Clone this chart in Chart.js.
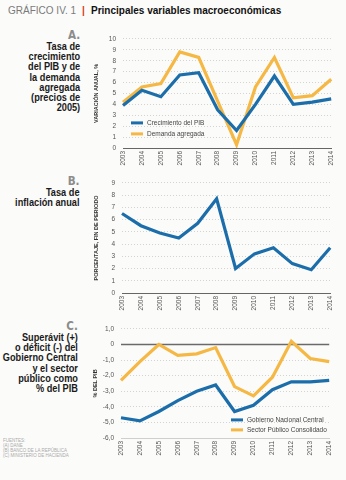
<!DOCTYPE html>
<html>
<head>
<meta charset="utf-8">
<script src="https://cdn.jsdelivr.net/npm/chart.js@4.4.1/dist/chart.umd.min.js"></script>
<style>
  body { margin:0; width:346px; height:480px; overflow:hidden; position:relative; background:#fbfbf9;
         font-family:"Liberation Sans",Arial,sans-serif; }
  canvas { position:absolute; }
  .head { position:absolute; left:8px; top:4px; font-size:11.5px; white-space:nowrap; transform:scaleX(0.87); transform-origin:left top; }
  .head .g { color:#7a7a7a; }
  .head .r { color:#d23a2a; font-weight:bold; margin:0 7px; }
  .head .t { color:#111; font-weight:bold; }
  .lbl { position:absolute; right:266px; text-align:right; font-weight:bold; font-size:11.5px; line-height:10.2px; color:#1a1a1a;
         white-space:nowrap; transform:scaleX(0.8); transform-origin:right top; }
  .lbl .k { display:block; color:#8c8c8c; font-size:13px; line-height:12px; font-family:"DejaVu Sans",sans-serif; }
  .src { position:absolute; left:3px; top:438px; font-size:4.5px; line-height:5px; color:#aaa; }
</style>
</head>
<body>
<div class="head"><span class="g">GRÁFICO IV. 1</span><span class="r">|</span><span class="t">Principales variables macroeconómicas</span></div>

<div class="lbl" style="top:29px"><span class="k">A.</span>Tasa de<br>crecimiento<br>del PIB y de<br>la demanda<br>agregada<br>(precios de<br>2005)</div>
<div class="lbl" style="top:175px"><span class="k">B.</span>Tasa de<br>inflación anual</div>
<div class="lbl" style="top:320px;right:268px"><span class="k">C.</span>Superávit (+)<br>o déficit (-) del<br>Gobierno Central<br>y el sector<br>público como<br>% del PIB</div>
<div class="src">FUENTES:<br>(A) DANE<br>(B) BANCO DE LA REPÚBLICA<br>(C) MINISTERIO DE HACIENDA</div>

<canvas id="chartA" style="left:80px;top:28px" width="262" height="142"></canvas>
<canvas id="chartB" style="left:80px;top:172px" width="261" height="139"></canvas>
<canvas id="chartC" style="left:80px;top:318px" width="260" height="145"></canvas>

<script>
var years = ['2003','2004','2005','2006','2007','2008','2009','2010','2011','2012','2013','2014'];

// A. crecimiento PIB y demanda agregada (variación anual, %)
var pibGrowth = [3.9, 5.3, 4.7, 6.7, 6.9, 3.5, 1.6, 4.0, 6.6, 4.0, 4.2, 4.5];
var aggDemand = [4.2, 5.6, 5.9, 8.8, 8.3, 4.3, 0.3, 5.6, 8.3, 4.6, 4.8, 6.3];

// B. inflación anual (fin de periodo, %)
var inflation = [6.5, 5.5, 4.9, 4.5, 5.7, 7.7, 2.0, 3.2, 3.7, 2.4, 1.9, 3.7];

// C. balance fiscal (% del PIB)
var centralGov   = [-4.7, -4.9, -4.3, -3.6, -3.0, -2.6, -4.3, -3.9, -2.9, -2.4, -2.4, -2.3];
var publicSector = [-2.3, -1.1, 0.0, -0.7, -0.6, -0.2, -2.7, -3.3, -2.1, 0.2, -0.9, -1.1];

var BLUE = '#1c6eab', ORANGE = '#f5b845';
var FONT = '"Liberation Sans",Arial,sans-serif';

// legend drawn inside the plot area
var inLegend = {
  id: 'inLegend',
  afterDraw: function(chart, args, o) {
    if (!o || o.dx == null) return;
    var ctx = chart.ctx, a = chart.chartArea;
    chart.data.datasets.forEach(function(ds, i) {
      var x = a.left + o.dx, y = a.top + o.dy + i * o.gap;
      ctx.save();
      ctx.strokeStyle = ds.borderColor;
      ctx.lineWidth = 3;
      ctx.beginPath(); ctx.moveTo(x, y); ctx.lineTo(x + 12, y); ctx.stroke();
      ctx.fillStyle = '#444';
      ctx.font = '6.5px ' + FONT;
      ctx.textBaseline = 'middle';
      ctx.fillText(ds.label, x + 16, y + 0.5);
      ctx.restore();
    });
  }
};

// dark zero line
var zeroLine = {
  id: 'zeroLine',
  beforeDatasetsDraw: function(chart, args, o) {
    if (!o || !o.on) return;
    var y = chart.scales.y.getPixelForValue(0), a = chart.chartArea, ctx = chart.ctx;
    ctx.save();
    ctx.strokeStyle = '#6a6a6a'; ctx.lineWidth = 1.3;
    ctx.beginPath(); ctx.moveTo(a.left, y); ctx.lineTo(a.right, y); ctx.stroke();
    ctx.restore();
  }
};

function makeChart(id, datasets, c) {
  return new Chart(document.getElementById(id), {
    type: 'line',
    data: {
      labels: years,
      datasets: datasets.map(function(d) {
        return { label: d.label, data: d.data, borderColor: d.color, borderWidth: 3.2,
                 pointRadius: 0, tension: 0, fill: false };
      })
    },
    options: {
      responsive: false,
      animation: false,
      layout: { padding: { top: c.padTop, right: c.padRight, left: 0, bottom: 0 } },
      plugins: {
        legend: { display: false },
        tooltip: { enabled: false },
        inLegend: c.legend || {},
        zeroLine: { on: !!c.zero }
      },
      scales: {
        x: {
          offset: false,
          grid: { display: false, drawTicks: false },
          border: { display: true, color: c.xBorder, width: 1 },
          ticks: { color: '#555', font: { size: 6.5, family: FONT }, minRotation: 90, maxRotation: 90, padding: 3, autoSkip: false },
          afterFit: function(s) { s.height = c.xHeight; }
        },
        y: {
          min: c.yMin, max: c.yMax,
          grid: { color: '#c9c9c9', lineWidth: 0.8, drawTicks: false },
          border: { display: false, dash: [1, 2] },
          ticks: { stepSize: c.step, color: '#555', padding: 7, font: { size: 6.5, family: FONT },
                   callback: c.fmt },
          title: { display: true, text: c.title, color: '#333', padding: { top: c.titlePad, bottom: 0 },
                   font: { size: 5.5, weight: 'bold', family: FONT } },
          afterFit: function(s) { s.width = c.yWidth; }
        }
      }
    },
    plugins: [inLegend, zeroLine]
  });
}

makeChart('chartA', [
  { label: 'Crecimiento del PIB', data: pibGrowth, color: BLUE },
  { label: 'Demanda agregada', data: aggDemand, color: ORANGE }
], { yMin: 0, yMax: 10, step: 1, yWidth: 43, xHeight: 22, padTop: 3, padRight: 8,
     title: 'VARIACIÓN ANUAL, %', titlePad: 13, xBorder: '#666',
     fmt: function(v) { return v; }, legend: { dx: 8, dy: 84, gap: 11 } });

makeChart('chartB', [
  { label: 'Inflación', data: inflation, color: BLUE }
], { yMin: 0, yMax: 9, step: 1, yWidth: 42, xHeight: 18, padTop: 6, padRight: 8,
     title: 'PORCENTAJE, FIN DE PERIODO', titlePad: 13, xBorder: '#666',
     fmt: function(v) { return v; } });

makeChart('chartC', [
  { label: 'Gobierno Nacional Central', data: centralGov, color: BLUE },
  { label: 'Sector Público Consolidado', data: publicSector, color: ORANGE }
], { yMin: -6, yMax: 1, step: 1, yWidth: 41, xHeight: 25, padTop: 5, padRight: 8,
     title: '% DEL PIB', titlePad: 12, xBorder: '#cfcfcf', zero: true,
     fmt: function(v) { return v === 0 ? '0' : v.toFixed(1).replace('.', ','); },
     legend: { dx: 110, dy: 91, gap: 10 } });
</script>
</body>
</html>
